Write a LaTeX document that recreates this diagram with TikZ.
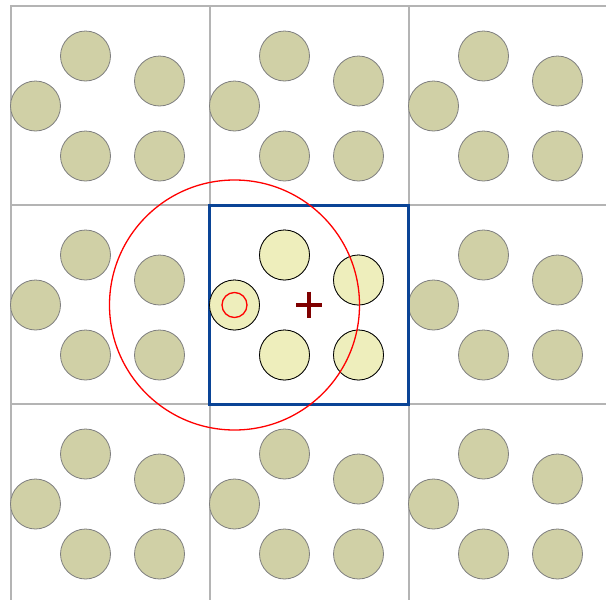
\documentclass[tikz,border=0pt]{standalone}
\usetikzlibrary{calc}
\definecolor{Grid}{HTML}{B4B4B4}
\definecolor{Atom}{HTML}{D0D0A6}
\definecolor{AtomRim}{HTML}{7F7F7F}
\definecolor{Home}{HTML}{EEEEBC}
\definecolor{Box}{HTML}{0A4496}
\definecolor{Cut}{HTML}{FF0000}
\definecolor{Mark}{HTML}{7F0000}
\tikzset{
  cell/.style={draw=Grid,line width=2pt},
  image/.style={fill=Atom,draw=AtomRim,line width=0.8pt},
  atom/.style={fill=Home,draw=black,line width=0.8pt},
  homebox/.style={draw=Box,line width=3pt},
  cutoff/.style={draw=Cut,line width=1.3pt},
  centre/.style={draw=Mark,line width=4pt}
}
\begin{document}
\begin{tikzpicture}[x=1pt,y=-1pt]
  \useasboundingbox (0,0) rectangle (606,600);
  \clip (0,0) rectangle (606,600);
  % periodic images
  \foreach \i in {0,1,2} \foreach \j in {0,1,2} {
    \draw[cell] ({10.5+199*\i},{6+199*\j}) rectangle +(199,199);
    \foreach \u/\v in {25/100,75/50,149/75,75/150,149/150}
      \draw[image] ({10.5+199*\i+\u},{6+199*\j+\v}) circle (25pt);
  }
  % home cell
  \coordinate (corner) at (209.5,205);
  \coordinate (mid) at (309,304.5);
  \coordinate (home) at (234.5,305);
  \draw[homebox] (corner) rectangle +(199,199);
  \foreach \u/\v in {25/100,75/50,149/75,75/150,149/150}
    \draw[atom] ($(corner)+(\u,\v)$) circle (25pt);
  % cutoff sphere
  \draw[cutoff] (home) circle (125pt);
  \draw[cutoff] (home) circle (12.5pt);
  \draw[centre] ($(mid)+(-13,0)$) -- ($(mid)+(13,0)$);
  \draw[centre] ($(mid)+(0,-13)$) -- ($(mid)+(0,13)$);
\end{tikzpicture}
\end{document}
